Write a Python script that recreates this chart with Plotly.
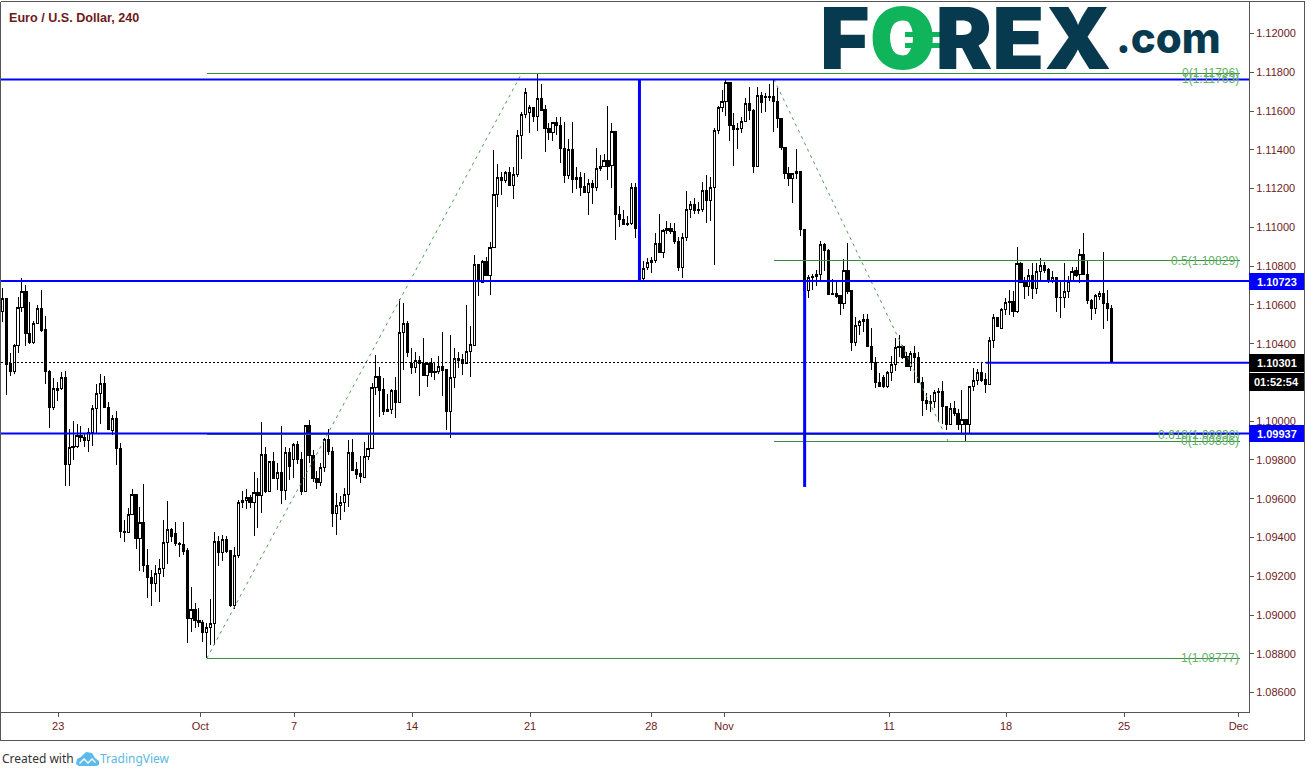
import plotly.graph_objects as go

opens = [
1.10565,1.10634,1.10298,1.10255,1.10391,1.10587,1.10668,1.10453,1.10405,1.10505,
1.10582,1.10474,1.10255,1.10070,1.10159,1.10169,1.10226,1.09776,1.09872,1.09868,
1.09927,1.09918,1.09899,1.09941,1.10064,1.10144,1.10195,1.10071,1.09954,1.10015,
1.09860,1.09432,1.09425,1.09518,1.09622,1.09394,1.09478,1.09256,1.09194,1.09161,
1.09213,1.09241,1.09373,1.09442,1.09421,1.09370,1.09364,1.09333,1.08981,1.09029,
1.08974,1.08962,1.08909,1.08936,1.08957,1.09380,1.09323,1.09392,1.09332,1.09051,
1.09306,1.09581,1.09591,1.09607,1.09581,1.09633,1.09616,1.09829,1.09636,1.09793,
1.09702,1.09736,1.09645,1.09839,1.09800,1.09882,1.09803,1.09636,1.09978,1.09824,
1.09705,1.09686,1.09762,1.09906,1.09844,1.09523,1.09564,1.09579,1.09622,1.09839,
1.09751,1.09731,1.09710,1.09817,1.09858,1.10173,1.10231,1.10164,1.10049,1.10061,
1.10159,1.10095,1.10458,1.10505,1.10298,1.10275,1.10313,1.10298,1.10238,1.10298,
1.10258,1.10255,1.10282,1.10267,1.10048,1.10224,1.10324,1.10320,1.10298,1.10358,
1.10392,1.10809,1.10716,1.10826,1.10754,1.10895,1.11170,1.11258,1.11240,1.11283,
1.11215,1.11271,1.11474,1.11583,1.11591,1.11619,1.11571,1.11665,1.11608,1.11510,
1.11488,1.11541,1.11526,1.11405,1.11266,1.11402,1.11247,1.11258,1.11209,1.11178,
1.11227,1.11204,1.11304,1.11313,1.11345,1.11318,1.11497,1.11068,1.11041,1.11022,
1.11018,1.11208,1.10994,1.10736,1.10795,1.10819,1.10828,1.10917,1.10869,1.10982,
1.10994,1.10979,1.10927,1.10791,1.10948,1.11092,1.11118,1.11092,1.11091,1.11192,
1.11137,1.11206,1.11500,1.11617,1.11650,1.11748,1.11526,1.11510,1.11509,1.11547,
1.11639,1.11605,1.11313,1.11681,1.11677,1.11677,1.11677,1.11650,1.11562,1.11412,
1.11278,1.11251,1.11278,1.11289,1.10990,1.10672,1.10742,1.10758,1.10756,1.10914,
1.10883,1.10660,1.10660,1.10646,1.10606,1.10780,1.10672,1.10405,1.10493,1.10515,
1.10525,1.10388,1.10304,1.10200,1.10226,1.10178,1.10252,1.10295,1.10388,1.10384,
1.10333,1.10281,1.10350,1.10329,1.10199,1.10107,1.10092,1.10101,1.10154,1.10154,
1.10078,1.09985,1.10066,1.10040,1.09982,1.10009,1.09982,1.10180,1.10209,1.10252,
1.10216,1.10188,1.10415,1.10536,1.10477,1.10577,1.10618,1.10618,1.10565,1.10814,
1.10720,1.10694,1.10752,1.10684,1.10773,1.10804,1.10783,1.10722,1.10742,1.10639,
1.10637,1.10670,1.10720,1.10777,1.10756,1.10861,1.10758,1.10625,1.10579,1.10642,
1.10660,1.10608,1.10582]

closes = [
1.10634,1.10293,1.10255,1.10391,1.10587,1.10668,1.10453,1.10405,1.10505,1.10582,
1.10470,1.10255,1.10070,1.10169,1.10169,1.10226,1.09776,1.09865,1.09863,1.09927,
1.09915,1.09899,1.09941,1.10066,1.10144,1.10195,1.10070,1.09956,1.10015,1.09858,
1.09430,1.09425,1.09519,1.09622,1.09394,1.09478,1.09254,1.09192,1.09161,1.09215,
1.09241,1.09375,1.09442,1.09404,1.09368,1.09363,1.09330,1.08981,1.09029,1.08971,
1.08960,1.08909,1.08936,1.08957,1.09380,1.09321,1.09392,1.09330,1.09051,1.09308,
1.09581,1.09591,1.09607,1.09581,1.09633,1.09616,1.09829,1.09636,1.09793,1.09702,
1.09736,1.09645,1.09839,1.09765,1.09882,1.09800,1.09636,1.09978,1.09822,1.09702,
1.09686,1.09762,1.09906,1.09843,1.09523,1.09566,1.09581,1.09622,1.09839,1.09748,
1.09727,1.09714,1.09820,1.09860,1.10175,1.10230,1.10161,1.10049,1.10061,1.10159,
1.10095,1.10458,1.10505,1.10353,1.10275,1.10313,1.10298,1.10238,1.10298,1.10250,
1.10250,1.10282,1.10263,1.10048,1.10226,1.10324,1.10315,1.10298,1.10361,1.10398,
1.10809,1.10719,1.10824,1.10754,1.10896,1.11170,1.11258,1.11240,1.11283,1.11215,
1.11271,1.11474,1.11583,1.11696,1.11619,1.11571,1.11665,1.11605,1.11509,1.11488,
1.11541,1.11526,1.11405,1.11266,1.11404,1.11246,1.11258,1.11204,1.11178,1.11227,
1.11204,1.11304,1.11313,1.11345,1.11316,1.11497,1.11067,1.11039,1.11015,1.11013,
1.11206,1.10994,1.10736,1.10788,1.10819,1.10831,1.10917,1.10869,1.10986,1.10994,
1.10977,1.10926,1.10791,1.10948,1.11092,1.11118,1.11089,1.11086,1.11192,1.11137,
1.11206,1.11502,1.11619,1.11650,1.11748,1.11524,1.11505,1.11505,1.11548,1.11639,
1.11602,1.11313,1.11681,1.11643,1.11669,1.11669,1.11648,1.11559,1.11411,1.11276,
1.11251,1.11278,1.11289,1.10988,1.10672,1.10742,1.10749,1.10749,1.10914,1.10880,
1.10656,1.10654,1.10642,1.10606,1.10780,1.10668,1.10405,1.10494,1.10515,1.10525,
1.10384,1.10302,1.10199,1.10178,1.10178,1.10252,1.10295,1.10381,1.10379,1.10328,
1.10281,1.10350,1.10328,1.10200,1.10106,1.10089,1.10101,1.10149,1.10147,1.10075,
1.09985,1.10066,1.10040,1.09982,1.10009,1.09982,1.10180,1.10211,1.10252,1.10212,
1.10188,1.10415,1.10536,1.10488,1.10577,1.10613,1.10611,1.10565,1.10814,1.10716,
1.10694,1.10752,1.10684,1.10773,1.10804,1.10780,1.10722,1.10742,1.10637,1.10637,
1.10670,1.10720,1.10773,1.10754,1.10861,1.10756,1.10622,1.10579,1.10646,1.10660,
1.10608,1.10582,1.10301]

highs = [
1.10685,1.10634,1.10353,1.10398,1.10642,1.10737,1.10703,1.10617,1.10519,1.10599,
1.10677,1.10543,1.10264,1.10221,1.10200,1.10254,1.10257,1.09958,1.10001,1.09984,
1.09975,1.09937,1.09963,1.10083,1.10190,1.10243,1.10233,1.10097,1.10032,1.10052,
1.09886,1.09490,1.09550,1.09648,1.09624,1.09555,1.09674,1.09339,1.09232,1.09258,
1.09289,1.09490,1.09588,1.09447,1.09481,1.09378,1.09480,1.09344,1.09146,1.09063,
1.09034,1.08974,1.08957,1.09081,1.09426,1.09409,1.09413,1.09409,1.09335,1.09349,
1.09593,1.09640,1.09648,1.09619,1.09738,1.09705,1.09994,1.09868,1.09793,1.09841,
1.09782,1.09975,1.09868,1.09860,1.09886,1.09899,1.09839,1.09978,1.10006,1.09849,
1.09743,1.09786,1.09915,1.09960,1.09868,1.09628,1.09616,1.09653,1.09903,1.09906,
1.09791,1.09820,1.09894,1.09929,1.10195,1.10341,1.10278,1.10221,1.10140,1.10164,
1.10226,1.10629,1.10608,1.10517,1.10380,1.10355,1.10336,1.10427,1.10306,1.10324,
1.10298,1.10336,1.10458,1.10267,1.10444,1.10380,1.10355,1.10349,1.10597,1.10490,
1.10855,1.10809,1.10831,1.10848,1.10927,1.11399,1.11326,1.11287,1.11290,1.11309,
1.11313,1.11502,1.11596,1.11717,1.11631,1.11619,1.11796,1.11739,1.11631,1.11536,
1.11543,1.11571,1.11567,1.11541,1.11457,1.11543,1.11313,1.11285,1.11282,1.11252,
1.11244,1.11407,1.11373,1.11378,1.11626,1.11536,1.11497,1.11110,1.11089,1.11058,
1.11227,1.11227,1.10994,1.10826,1.10840,1.10848,1.10969,1.11068,1.10994,1.11032,
1.11025,1.11025,1.10951,1.10972,1.11187,1.11135,1.11149,1.11132,1.11235,1.11270,
1.11261,1.11514,1.11626,1.11708,1.11763,1.11748,1.11588,1.11540,1.11567,1.11667,
1.11722,1.11608,1.11722,1.11696,1.11694,1.11737,1.11763,1.11717,1.11565,1.11412,
1.11309,1.11283,1.11402,1.11290,1.10990,1.10754,1.10758,1.10780,1.10930,1.10921,
1.10887,1.10732,1.10725,1.10651,1.10837,1.10921,1.10672,1.10536,1.10522,1.10551,
1.10553,1.10479,1.10329,1.10247,1.10238,1.10261,1.10336,1.10431,1.10445,1.10393,
1.10359,1.10362,1.10388,1.10355,1.10226,1.10147,1.10135,1.10161,1.10173,1.10206,
1.10078,1.10095,1.10104,1.10061,1.10161,1.10009,1.10183,1.10273,1.10267,1.10298,
1.10247,1.10433,1.10551,1.10539,1.10582,1.10634,1.10677,1.10673,1.10897,1.10823,
1.10742,1.10783,1.10814,1.10814,1.10840,1.10823,1.10789,1.10775,1.10742,1.10728,
1.10814,1.10749,1.10797,1.10794,1.10888,1.10969,1.10828,1.10629,1.10656,1.10672,
1.10871,1.10677,1.10599]

lows = [
1.10513,1.10135,1.10233,1.10243,1.10353,1.10565,1.10388,1.10398,1.10398,1.10505,
1.10462,1.10192,1.09966,1.10058,1.10106,1.10161,1.09667,1.09667,1.09800,1.09863,
1.09894,1.09868,1.09843,1.09872,1.09941,1.09985,1.10070,1.09956,1.09929,1.09774,
1.09399,1.09378,1.09421,1.09516,1.09339,1.09229,1.09223,1.09089,1.09048,1.09120,
1.09069,1.09194,1.09266,1.09378,1.09358,1.09301,1.09309,1.08854,1.08914,1.08931,
1.08940,1.08862,1.08777,1.08845,1.08845,1.09253,1.09280,1.09318,1.09043,1.09029,
1.09297,1.09554,1.09545,1.09554,1.09409,1.09450,1.09524,1.09631,1.09636,1.09702,
1.09645,1.09573,1.09593,1.09696,1.09705,1.09779,1.09619,1.09636,1.09782,1.09688,
1.09652,1.09665,1.09739,1.09825,1.09456,1.09413,1.09490,1.09533,1.09559,1.09745,
1.09702,1.09683,1.09708,1.09800,1.09858,1.10135,1.10023,1.10032,1.10049,1.10037,
1.10015,1.10095,1.10264,1.10329,1.10243,1.10250,1.10131,1.10238,1.10177,1.10229,
1.10212,1.10246,1.10131,1.09954,1.09914,1.10172,1.10272,1.10238,1.10298,1.10229,
1.10387,1.10645,1.10716,1.10748,1.10650,1.10895,1.11106,1.11166,1.11230,1.11213,
1.11147,1.11261,1.11354,1.11565,1.11488,1.11545,1.11498,1.11600,1.11390,1.11450,
1.11447,1.11476,1.11333,1.11230,1.11252,1.11178,1.11196,1.11163,1.11178,1.11063,
1.11123,1.11187,1.11292,1.11313,1.11244,1.11204,1.10934,1.11000,1.11015,1.11008,
1.11012,1.10943,1.10724,1.10728,1.10779,1.10766,1.10817,1.10869,1.10843,1.10965,
1.10965,1.10914,1.10776,1.10740,1.10931,1.11049,1.11068,1.11067,1.11080,1.11024,
1.11034,1.10805,1.11481,1.11596,1.11574,1.11445,1.11316,1.11405,1.11488,1.11545,
1.11553,1.11282,1.11313,1.11591,1.11596,1.11653,1.11491,1.11510,1.11399,1.11252,
1.11213,1.11127,1.11247,1.10957,1.10625,1.10637,1.10677,1.10699,1.10723,1.10777,
1.10651,1.10651,1.10637,1.10548,1.10579,1.10656,1.10364,1.10388,1.10445,1.10462,
1.10384,1.10264,1.10169,1.10178,1.10169,1.10173,1.10209,1.10261,1.10329,1.10319,
1.10281,1.10259,1.10195,1.10195,1.10028,1.10058,1.10049,1.10066,1.09997,1.09985,
1.09954,1.09982,1.10028,1.09954,1.09937,1.09896,1.09937,1.10156,1.10187,1.10204,
1.10147,1.10188,1.10376,1.10488,1.10477,1.10548,1.10548,1.10539,1.10560,1.10711,
1.10632,1.10646,1.10629,1.10656,1.10720,1.10763,1.10711,1.10711,1.10565,1.10534,
1.10584,1.10634,1.10720,1.10746,1.10711,1.10754,1.10605,1.10522,1.10553,1.10625,
1.10477,1.10517,1.10301]

price_ticks = [1.12, 1.118, 1.116, 1.114, 1.112, 1.11, 1.108, 1.106, 1.104, 1.102, 1.1,
               1.098, 1.096, 1.094, 1.092, 1.09, 1.088, 1.086]
date_labels = ["23", "Oct", "7", "14", "21", "28", "Nov", "11", "18", "25", "Dec"]
date_bars = [14.2, 50.35, 74.2, 104.2, 134.2, 165, 183.5, 225.5, 255.2, 285.2, 314.3]

level_high, level_mid, level_low, level_last = 1.11763, 1.10723, 1.09937, 1.10301
fib1_hi, fib1_lo, fib1_618 = 1.11796, 1.08777, 1.09930
fib2_hi, fib2_mid, fib2_lo = 1.11763, 1.10829, 1.09896
vert_low = 1.09661

DARK = "#6e1b1b"
GREY = "#555555"
BLUE = "#0000ff"
GREEN = "#388e3c"
FIBTXT = "#63b068"
N = len(opens)
idx = list(range(N))
X0, X1 = -0.33, 316.98
RIGHT = 314.7

W, H = 1311, 777
L, R, T, B = 1, 1249, 2, 712
def px(x): return (x - L) / (R - L)
def py(y): return (B - y) / (B - T)

fig = go.Figure(go.Candlestick(
    x=idx, open=opens, high=highs, low=lows, close=closes,
    increasing=dict(line=dict(color="#000000", width=1), fillcolor="#ffffff"),
    decreasing=dict(line=dict(color="#000000", width=1), fillcolor="#000000"),
    whiskerwidth=0, showlegend=False, hoverinfo="skip"))

shapes = []
def line(x0, y0, x1, y1, color, width, dash="solid"):
    shapes.append(dict(type="line", xref="x", yref="y", x0=x0, y0=y0, x1=x1, y1=y1,
                       line=dict(color=color, width=width, dash=dash), layer="above"))
def box(x0, y0, x1, y1, color, kind="rect"):
    shapes.append(dict(type=kind, xref="paper", yref="paper", x0=px(x0), x1=px(x1),
                       y0=py(y0), y1=py(y1), fillcolor=color, line=dict(width=0), layer="above"))
def frame(x0, y0, x1, y1):
    shapes.append(dict(type="line", xref="paper", yref="paper", x0=px(x0), x1=px(x1),
                       y0=py(y0), y1=py(y1), line=dict(color=GREY, width=1), layer="above"))

# price line and fib levels
line(X0, level_last, 250, level_last, "#000000", 1, "2px,2px")
line(52, fib1_hi, RIGHT, fib1_hi, GREEN, 1)
line(52, fib1_lo, RIGHT, fib1_lo, GREEN, 1)
line(52, fib1_618, RIGHT, fib1_618, GREEN, 1)
line(196.2, fib2_hi, RIGHT, fib2_hi, GREEN, 1)
line(196.2, fib2_mid, RIGHT, fib2_mid, GREEN, 1)
line(196.2, fib2_lo, RIGHT, fib2_lo, GREEN, 1)
line(52, fib1_lo, 132.1, fib1_hi, "#4f9f55", 1, "3px,4px")
line(196.2, fib2_hi, 240.5, fib2_lo, "#4f9f55", 1, "3px,4px")
# blue drawn levels
line(X0, level_high, X1, level_high, BLUE, 2)
line(X0, level_mid, X1, level_mid, BLUE, 2)
line(X0, level_low, X1, level_low, BLUE, 2)
line(250, level_last, X1, level_last, BLUE, 2)
line(162, level_high, 162, level_mid, BLUE, 3)
line(204, level_mid, 204, vert_low, BLUE, 3)

# chrome
frame(0.5, 1.5, 1304.5, 1.5)
frame(0.5, 1.5, 0.5, 740.5)
frame(1304.5, 1.5, 1304.5, 740.5)
frame(0.5, 740.5, 1304.5, 740.5)

# axis price boxes
box(1249, 273, 1304, 290, BLUE)
box(1249, 354, 1304, 372, "#000000")
box(1249, 373, 1304, 391, "#000000")
box(1249, 425, 1304, 442, BLUE)

# FOREX logo zero
box(873, 8, 932, 68, "#10b45a", "circle")
box(890, 18, 913, 57, "#ffffff", "circle")
box(905, 32, 940, 37, "#10b45a")
box(905, 43, 940, 48, "#10b45a")

# TradingView cloud
def path(points, color):
    d = "M " + " L ".join(f"{px(a):.5f},{py(b):.5f}" for a, b in points) + " Z"
    shapes.append(dict(type="path", xref="paper", yref="paper", path=d, fillcolor=color,
                       line=dict(width=0), layer="above"))
path([(76, 764), (77, 759), (81, 757), (86, 752), (92, 753), (95, 758), (99, 761), (99, 765), (96, 766), (79, 766)], "#5bbcec")
path([(79, 763), (84, 758), (88, 762), (92, 758), (96, 762), (95, 763), (92, 760), (88, 764), (84, 760), (80, 764)], "#ffffff")

ann = []
def text(t, x, y, size, color, anchor="left", v="middle", weight="normal", font="Liberation Sans"):
    ann.append(dict(text=t, xref="paper", yref="paper", x=px(x), y=py(y), xanchor=anchor, yanchor=v,
                    showarrow=False, font=dict(size=size, color=color, family=font, weight=weight),
                    borderpad=0, borderwidth=0))
def fib(t, price):
    ann.append(dict(text=t, xref="x", yref="y", x=RIGHT, y=price, xanchor="right", yanchor="middle",
                    showarrow=False, font=dict(size=12, color=FIBTXT, family="Liberation Sans"), borderpad=0))

fib("0(1.11796)", fib1_hi)
fib("1(1.11763)", fib2_hi)
fib("0.5(1.10829)", fib2_mid)
fib("0.618(1.09930)", fib1_618)
fib("0(1.09896)", fib2_lo)
fib("1(1.08777)", fib1_lo)

text("1.10723", 1276.5, 281.5, 11, "#ffffff", "center", weight="bold")
text("1.10301", 1276.5, 363, 11, "#ffffff", "center", weight="bold")
text("01:52:54", 1276.5, 382, 11, "#ffffff", "center", weight="bold")
text("1.09937", 1276.5, 433.5, 11, "#ffffff", "center", weight="bold")
text("Euro / U.S. Dollar, 240", 9, 18, 12.6, DARK, weight="bold")
text("Created with", 2, 759, 12, "#333333", font="Noto Sans")
text("TradingView", 100, 759, 12, "#5bb8e6", font="Noto Sans")
text('F<span style="color:#10b45a">O</span>REX', 820, 38, 85, "#083a4f", weight=900, font="Inter")
text(".com", 1116, 37, 42, "#083a4f", weight=800, font="Inter")

fig.update_layout(
    width=W, height=H, margin=dict(l=L, r=W - R, t=T, b=H - B, autoexpand=False),
    paper_bgcolor="#ffffff", plot_bgcolor="#ffffff", showlegend=False, boxgap=0.2,
    shapes=shapes, annotations=ann, hovermode=False,
    xaxis=dict(range=[X0, X1], rangeslider=dict(visible=False), showgrid=False, zeroline=False,
               tickmode="array", tickvals=date_bars, ticktext=date_labels,
               ticks="outside", ticklen=4, tickcolor=GREY, showline=True, linecolor=GREY, linewidth=1,
               tickfont=dict(size=11, color=DARK, family="Liberation Sans")),
    yaxis=dict(range=[1.085, 1.121625], side="right", showgrid=False, zeroline=False,
               tickmode="array", tickvals=price_ticks, ticktext=[f"{v:.5f}" for v in price_ticks],
               ticks="outside", ticklen=4, tickcolor=GREY, showline=True, linecolor=GREY, linewidth=1,
               tickfont=dict(size=11, color=DARK, family="Liberation Sans")),
)
crisp = """
document.body.style.margin='0';document.body.style.overflow='hidden';
document.querySelectorAll('.boxes path').forEach(function(p){p.style.shapeRendering='crispEdges';});
document.querySelectorAll('.shapelayer path').forEach(function(p){
  var m=(p.getAttribute('d')||'').match(/^M([-\\d.]+),([-\\d.]+)L([-\\d.]+),([-\\d.]+)$/);
  var sw=parseFloat(p.style.strokeWidth||'0');
  if(m&&sw<2&&(m[1]===m[3]||m[2]===m[4])){p.style.shapeRendering='crispEdges';}
});
"""
fig.write_html("out.html", config=dict(displayModeBar=False, staticPlot=True), post_script=crisp)
